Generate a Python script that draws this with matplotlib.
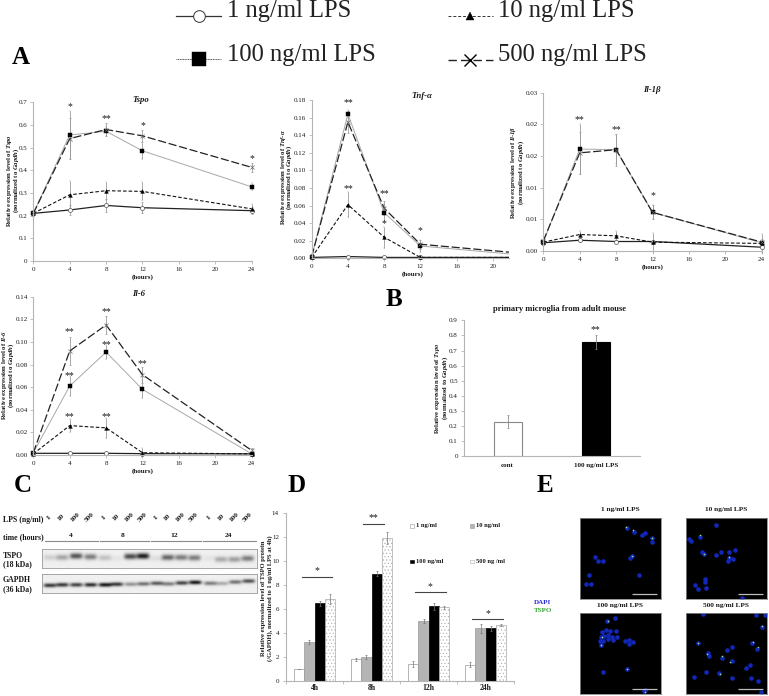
import numpy as np
import matplotlib
matplotlib.use("Agg")
import matplotlib.pyplot as plt
from matplotlib.patches import Rectangle
from matplotlib.lines import Line2D
from matplotlib.transforms import IdentityTransform

plt.rcParams['font.family'] = ['Liberation Serif', 'DejaVu Serif']
plt.rcParams['mathtext.fontset'] = 'custom'
plt.rcParams['mathtext.bfit'] = 'Liberation Serif:italic:bold'
plt.rcParams['mathtext.it'] = 'Liberation Serif:italic:bold'
plt.rcParams['mathtext.rm'] = 'Liberation Serif:bold'
plt.rcParams['mathtext.bf'] = 'Liberation Serif:bold'
plt.rcParams['mathtext.fallback'] = 'stix'

W, H = 769, 696
HOURS = [0, 4, 8, 12, 24]
DOSES = ['1 ng/ml LPS', '10 ng/ml LPS', '100 ng/ml LPS', '500 ng/ml LPS']

tspo_vals = [[.21, .225, .245, .235, .222], [.21, .292, .31, .307, .23],
             [.21, .556, .572, .486, .327], [.21, .54, .58, .552, .413]]
tspo_errs = [[.01, .02, .03, .025, .015], [.01, .06, .04, .04, .02],
             [.01, .105, .02, .035, .015], [.01, .09, .03, .025, .02]]
tspo_stars = [(4, .68, '*'), (8, .63, '**'), (12, .595, '*'), (24, .45, '*')]

tnf_vals = [[.001, .002, .001, .001, .001], [.001, .061, .024, .001, .001],
            [.002, .164, .052, .014, .003], [.002, .155, .057, .016, .005]]
tnf_errs = [[0, .0005, .0005, .0005, 0], [0, .014, .012, .002, 0],
            [0, .005, .01, .007, 0], [0, .012, .008, .005, 0]]
tnf_stars = [(4, .177, '**'), (4, .079, '**'), (8, .074, '**'), (8, .039, '*'), (12, .032, '*')]

il1_vals = [[.0013, .0017, .0015, .0015, .0006], [.0014, .0026, .0024, .0014, .0012],
            [.0014, .0161, .016, .0061, .0013], [.0016, .0155, .016, .0061, .0014]]
il1_errs = [[.0002, .0002, .0002, .0002, .0003], [.0002, .0006, .0007, .0015, .0015],
            [.0002, .004, .0023, .0011, .0005], [.0002, .0033, .0025, .0011, .0005]]
il1_stars = [(4, .0207, '**'), (8, .0192, '**'), (12, .0088, '*')]

il6_vals = [[.0015, .0015, .0015, .0012, .001], [.001, .026, .024, .002, .001],
            [.002, .061, .091, .058, .001], [.002, .092, .115, .071, .004]]
il6_errs = [[0, .0003, .0003, .0003, .0003], [0, .006, .009, .004, .001],
            [0, .009, .006, .008, .001], [0, .012, .008, .007, .002]]
il6_stars = [(4, .109, '**'), (8, .127, '**'), (4, .070, '**'), (8, .098, '**'),
             (12, .081, '**'), (4, .034, '**'), (8, .034, '**')]

b_cats = ['cont', '100 ng/ml LPS']
b_vals = [.23, .755]
b_errs = [.045, .045]

d_cats = ['4h', '8h', '12h', '24h']
d_vals = [[1.0, 1.8, 1.4, 1.35], [3.25, 2.0, 5.0, 4.4], [6.5, 8.95, 6.25, 4.4], [6.85, 11.9, 6.15, 4.7]]
d_errs = [[0, .12, .25, .2], [.15, .2, .18, .4], [.2, .2, .3, .2], [.45, .5, .1, .1]]
d_legend = ['1 ng/ml', '10 ng/ml', '100 ng/ml', '500 ng /ml']
d_brackets = [(8.7, '*'), (13.1, '**'), (7.4, '*'), (5.15, '*')]

lps_labels = ['1', '10', '100', '500'] * 4
time_labels = ['4', '8', '12', '24']
tspo_band = [.14, .32, .68, .5, .2, .05, .72, .92, .08, .6, .5, .5, .05, .3, .35, .5]
gapdh_band = [.8, .8, .75, .85, .95, .8, .4, .55, .65, .5, .75, .95, .5, .3, .55, .7]
lane_x = [150, 187, 229, 272, 315, 350, 392, 430, 470, 505, 545, 585, 630, 665, 705, 745]

img_titles = ['1 ng/ml LPS', '10 ng/ml LPS', '100 ng/ml LPS', '500 ng/ml LPS']
cells = [
    [(292,113),(311,127),(335,135),(345,130),(365,145),(367,156),(196,201),(205,213),(220,213),(300,205),(307,199),(178,255),(326,256),(168,282),(183,283)],
    [(557,104),(478,148),(484,153),(510,140),(515,186),(522,192),(558,196),(573,186),(598,186),(615,179),(596,203),(594,212),(609,208),(494,284),(505,298),(524,268),(526,276),(527,293),(636,323)],
    [(254,385),(232,393),(229,419),(217,426),(241,424),(258,424),(212,441),(222,438),(234,447),(246,440),(260,441),(250,449),(209,453),(219,452),(213,465),(284,453),(296,450),(308,455),(296,463),(219,545),(291,537),(341,604),(345,600),(235,436)],
    [(520,372),(677,374),(705,374),(697,412),(504,458),(606,470),(592,480),(667,460),(680,477),(535,488),(538,497),(577,503),(605,512),(659,525),(647,534),(528,546),(567,550),(491,560),(606,564),(662,565),(685,572),(692,606)],
]
spots = [
    [(288,110),(310,120),(305,198),(365,143)],
    [(510,136),(522,192),(596,200)],
    [(233,394),(214,465),(291,538),(344,606),(215,440)],
    [(505,458),(697,407),(530,492),(577,498),(600,516),(670,455),(683,470),(570,552)],
]

fig = plt.figure(figsize=(W / 100, H / 100), dpi=100, facecolor='white')
GREY = '#b5b5b5'
TXT = '#1a1a1a'
TS = 5.0


def make_ax(x0, x1, ytop, ybot):
    ax = fig.add_axes([x0 / W, 1 - ybot / H, (x1 - x0) / W, (ybot - ytop) / H])
    ax.patch.set_alpha(0)
    for s in ('top', 'right'):
        ax.spines[s].set_visible(False)
    for s in ('left', 'bottom'):
        ax.spines[s].set_color(GREY)
        ax.spines[s].set_linewidth(.8)
    ax.tick_params(length=2, width=.6, color=GREY, labelsize=TS, pad=2, labelcolor=TXT)
    return ax


def ptext(x, y, s, **kw):
    kw.setdefault('ha', 'center')
    kw.setdefault('va', 'center')
    kw.setdefault('fontsize', TS)
    kw.setdefault('fontweight', 'bold')
    kw.setdefault('color', TXT)
    return fig.text(x / W, 1 - y / H, s, **kw)


def ylab(x1, x2, y, s1, s2, fs=4.8):
    ptext(x1, y, s1, rotation=90, fontsize=fs)
    ptext(x2, y, s2, rotation=90, fontsize=fs)


STYLES = [
    dict(color='#222222', ls='-', lw=.9, marker='o', ms=2.9, mfc='white', mec='#555555', mew=.5),
    dict(color='#111111', ls=(0, (3.2, 1.8)), lw=.8, marker='^', ms=2.7, mfc='black', mec='black', mew=.3),
    dict(color='#a8a8a8', ls='-', lw=.7, marker='s', ms=3.1, mfc='black', mec='black', mew=.3),
    dict(color='#222222', ls=(0, (6.5, 2.2)), lw=.9, marker='x', ms=3.0, mfc='none', mec='#666666', mew=.5),
]


def line_panel(box, ymax, yticks, ylabels, vals, errs, stars, title, title_xy, xlab_y, xmax=24, xticks=(0, 4, 8, 12, 16, 20, 24)):
    ax = make_ax(*box)
    ax.set_xlim(0, xmax)
    ax.set_ylim(0, ymax)
    ax.set_xticks(list(xticks))
    ax.set_xticklabels([str(v) for v in xticks])
    ax.set_yticks(yticks)
    ax.set_yticklabels(ylabels)
    clip = Rectangle((-2, -ymax * .05), xmax + 2, ymax * 1.2, transform=ax.transData)
    for v, e, st in zip(vals, errs, STYLES):
        cont = ax.errorbar(HOURS, v, yerr=e, ecolor='#9a9a9a', elinewidth=.6, capsize=1.0, capthick=.5,
                           clip_on=xmax < 24, **st)
        if xmax < 24:
            for a in [cont.lines[0], *cont.lines[1], *cont.lines[2]]:
                a.set_clip_path(clip)
    for x, y, s in stars:
        ax.text(x, y, s, ha='center', va='center', fontsize=7, color=TXT, clip_on=False)
    ptext(title_xy[0], title_xy[1], title, fontsize=6.3, fontstyle='italic')
    ptext((box[0] + box[1]) / 2 + (2 if xmax < 24 else 0), xlab_y, '(hours)', fontsize=TS)
    return ax


LINE2 = '(normalized to $\\mathbfit{Gapdh}$)'

# Panel A
line_panel((33.3, 251.7, 102.3, 261), .7, [0, .1, .2, .3, .4, .5, .6, .7],
           ['0', '0.1', '0.2', '0.3', '0.4', '0.5', '0.6', '0.7'],
           tspo_vals, tspo_errs, tspo_stars, 'Tspo', (141, 100), 277.5)
ylab(9.5, 16, 180, 'Relative expression level of $\\mathbfit{Tspo}$', LINE2)

tnf_ticks = [0, .02, .04, .06, .08, .10, .12, .14, .16, .18]
line_panel((311.7, 509, 100, 258.3), .18, tnf_ticks, [f'{t:.2f}' for t in tnf_ticks],
           tnf_vals, tnf_errs, tnf_stars, 'Tnf-α', (422, 96), 274.5,
           xmax=21.8, xticks=(0, 4, 8, 12, 16, 20))
ylab(283, 289.5, 177, 'Relative expression level of $\\mathbfit{Tnf}$-$\\mathbfit{α}$', LINE2)

il1_ticks = [0, .005, .01, .015, .02, .025]
line_panel((543.3, 761.7, 92.7, 251), .025, il1_ticks, ['0.00', '0.01', '0.01', '0.02', '0.02', '0.03'],
           il1_vals, il1_errs, il1_stars, 'Il-1β', (652, 89.5), 267)
ylab(513.5, 521, 172, 'Relative expression level of $\\mathbfit{Il}$-$\\mathbfit{1β}$', LINE2)

il6_ticks = [0, .02, .04, .06, .08, .10, .12, .14]
line_panel((33.3, 251.7, 296.7, 455), .14, il6_ticks, [f'{t:.2f}' for t in il6_ticks],
           il6_vals, il6_errs, il6_stars, 'Il-6', (139, 294), 471)
ylab(4.8, 11.5, 375, 'Relative expression level of $\\mathbfit{Il}$-$\\mathbfit{6}$', LINE2)

# Panel B
axb = make_ax(463.5, 640, 320.3, 456.3)
axb.set_xlim(-.5, 1.5)
axb.set_ylim(0, .9)
axb.bar([0, 1], b_vals, width=.32, color=['white', 'black'], edgecolor=['#888888', 'black'], linewidth=.8,
        yerr=b_errs, error_kw=dict(ecolor='#888888', elinewidth=.6, capsize=1, capthick=.5))
axb.set_xticks([0, 1])
axb.set_xticklabels(b_cats, fontweight='bold', fontsize=TS)
axb.tick_params(axis='x', length=0, pad=5)
axb.set_yticks(np.arange(0, 10) / 10)
axb.set_yticklabels(['0'] + [f'{i / 10:.1f}' for i in range(1, 10)])
axb.text(1, .84, '**', ha='center', va='center', fontsize=7, color=TXT)
ptext(559.5, 309.3, 'primary microglia from adult mouse', fontsize=6.1)
ylab(438, 445, 388, 'Relative expression level of $\\mathbfit{Tspo}$', LINE2, fs=4.7)

# Panel D
axd = make_ax(286, 514.3, 513.3, 681)
axd.set_xlim(-.5, 3.5)
axd.set_ylim(0, 14)
bw = .18
dx = [-1.5, -.5, .5, 1.5]
dcols = ['white', '#b4b4b4', 'black', 'white']
dedge = ['#999999', '#999999', 'black', '#aaaaaa']
dhatch = [None, None, None, '.....']
plt.rcParams['hatch.linewidth'] = .4
plt.rcParams['hatch.color'] = '#9a9a9a'
for k in range(4):
    xs = [g + dx[k] * bw for g in range(4)]
    axd.bar(xs, d_vals[k], width=bw, color=dcols[k], edgecolor=dedge[k], hatch=dhatch[k], linewidth=.5,
            yerr=d_errs[k], error_kw=dict(ecolor='#777777', elinewidth=.5, capsize=1, capthick=.5))
axd.set_xticks(np.arange(.5, 3, 1).tolist() + [-.5, 3.5])
axd.set_xticklabels([''] * 5)
for g, c in enumerate(d_cats):
    axd.text(g, -.62, c, ha='center', va='center', fontsize=5.5, fontweight='bold', color=TXT)
axd.set_yticks(range(0, 15, 2))
axd.set_yticklabels([str(i) for i in range(0, 15, 2)])
axd.tick_params(axis='y', labelsize=5, pad=3)
axd.tick_params(axis='x', length=2)
bracket_half = [.265, .185, .27, .27]
bracket_c = [.04, 1.03, 2.03, 3.03]
for g, (y, s) in enumerate(d_brackets):
    axd.plot([bracket_c[g] - bracket_half[g], bracket_c[g] + bracket_half[g]], [y, y], color='#444444', lw=.8)
    axd.text(bracket_c[g], y + .5, s, ha='center', va='center', fontsize=7, color=TXT)
leg_xy = [(410, 526), (470, 526), (410, 561.5), (470, 561.5)]
for (x, y), lb, c, e in zip(leg_xy, d_legend, dcols, dedge):
    sq = Rectangle((x, H - y - 1.75), 3.5, 3.5, transform=IdentityTransform(),
                   facecolor=c, edgecolor=e, linewidth=.4)
    fig.add_artist(sq)
    ptext(x + 5.5, y, lb, ha='left', fontsize=4.7)
ylab(263.5, 269.8, 598, 'Relative expression level of TSPO protein', '(/GAPDH), normalized to 1 ng/ml LPS at 4h)', fs=4.7)
ptext(534, 602, 'DAPI', ha='left', color='#2a2ad0', fontsize=5)
ptext(534, 610, 'TSPO', ha='left', color='#3aa63a', fontsize=5)


# Panel C blots
def blot(x0, x1, ytop, ybot, intens, shift, thick):
    ax = fig.add_axes([x0 / W, 1 - ybot / H, (x1 - x0) / W, (ybot - ytop) / H])
    xx = np.linspace(127, 772, 340)
    yy = np.linspace(0, 1, 50)
    X, Y = np.meshgrid(xx, yy)
    img = np.ones_like(X) * .94
    for i, (lx, v) in enumerate(zip(lane_x, intens)):
        cy = .52 + shift[i]
        img -= .9 * v * np.exp(-((X - lx) / 19) ** 4) * np.exp(-((Y - cy) / thick) ** 2)
    ax.imshow(np.clip(img, 0, 1), cmap='gray', vmin=0, vmax=1, aspect='auto', extent=(127, 772, 1, 0),
              interpolation='bilinear')
    ax.set_xticks([])
    ax.set_yticks([])
    for s in ax.spines.values():
        s.set_color('#9a9a9a')
        s.set_linewidth(.6)
    return ax


blot(42.3, 257, 549.3, 568.3, tspo_band, [-.05, -.05, -.12, -.08, -.03, 0, -.1, -.12, 0, -.05, -.05, -.03, 0, .05, .05, 0], .15)
blot(41.7, 257, 574.3, 593.3, gapdh_band, [.08, .05, .05, .05, .05, .02, .02, 0, -.03, 0, -.05, -.08, -.03, -.02, -.1, -.15], .11)

ptext(3, 520, 'LPS (ng/ml)', ha='left', fontsize=5.6)
ptext(3, 537, 'time (hours)', ha='left', fontsize=5.6)
ptext(3, 555.7, 'TSPO', ha='left', fontsize=5.6)
ptext(3, 564.5, '(18 kDa)', ha='left', fontsize=5.6)
ptext(3, 580.3, 'GAPDH', ha='left', fontsize=5.6)
ptext(3, 589, '(36 kDa)', ha='left', fontsize=5.6)
for lx, lb in zip(lane_x, lps_labels):
    ptext(lx / 3 - 1, 517.5, lb, rotation=45, fontsize=5.3)
for cx, lb, (a, b) in zip([70.5, 123, 174, 228.5], time_labels, [(44.5, 98), (99.5, 149), (151, 200.5), (202.5, 255.5)]):
    ptext(cx, 535.5, lb, fontsize=5.4)
    fig.add_artist(Line2D([a / W, b / W], [1 - 541.3 / H] * 2, color='#8a8a8a', lw=.8))

# Panel E
img_boxes = [(580, 661, 517.7, 599), (685.7, 767.3, 517.7, 599),
             (580, 661, 613.3, 694.3), (685.7, 767.3, 613.3, 694.3)]
zoom_frames = [(150, 393, 327, 83), (467, 712, 327, 83), (150, 393, 613, 370), (467, 712, 613, 370)]
title_x = [620, 726, 620, 726]
title_y = [509.5, 509.5, 606, 606]
for i, (bx, fr) in enumerate(zip(img_boxes, zoom_frames)):
    ax = fig.add_axes([bx[0] / W, 1 - bx[3] / H, (bx[1] - bx[0]) / W, (bx[3] - bx[2]) / H])
    ax.set_facecolor('black')
    ax.set_xlim(fr[0], fr[1])
    ax.set_ylim(fr[2], fr[3])
    ax.set_xticks([])
    ax.set_yticks([])
    for s in ax.spines.values():
        s.set_color('#888888')
        s.set_linewidth(.6)
    cx, cy = zip(*cells[i])
    ax.scatter(cx, cy, s=11, color='#1226b8', linewidths=0)
    sx, sy = zip(*spots[i])
    ax.scatter(sx, sy, s=1.4, color='#90e090', linewidths=0)
    ax.plot([fr[1] - 88, fr[1] - 13], [fr[2] - 16, fr[2] - 16], color='#bbbbbb', lw=.9, solid_capstyle='butt')
    ptext(title_x[i], title_y[i], img_titles[i], fontsize=5.3)

# Top legend
leg_pos = [(176, 221, 199, 16, 227), (448, 493, 470, 16, 498), (176, 221, 199, 59, 227), (448, 493, 470, 60, 498)]
leg_styles = [
    dict(color='#333333', ls='-', lw=.9, marker='o', ms=8.4, mfc='white', mec='#333333', mew=.7),
    dict(color='#333333', ls=(0, (3, 2)), lw=.7, marker='^', ms=6, mfc='black', mec='black', mew=.3),
    dict(color='#444444', ls=(0, (1, .7)), lw=.7, marker='s', ms=10, mfc='black', mec='black', mew=.3),
    dict(color='#222222', ls=(0, (6, 3)), lw=1.0, marker='x', ms=9, mfc='none', mec='black', mew=1.0),
]
for (a, b, m, y, tx), lb, st in zip(leg_pos, DOSES, leg_styles):
    st = dict(st)
    marker = {k: st.pop(k) for k in ('marker', 'ms', 'mfc', 'mec', 'mew')}
    fig.add_artist(Line2D([a / W, b / W], [1 - y / H] * 2, **st))
    fig.add_artist(Line2D([m / W], [1 - y / H], ls='none', marker=marker['marker'], ms=marker['ms'],
                          mfc=marker['mfc'], mec=marker['mec'], mew=marker['mew']))
    ptext(tx, y - 4.5, lb, ha='left', fontsize=17.7, fontweight='normal', color='#222222')

# Panel letters
for lt, x, y in [('A', 12, 57.5), ('B', 386, 299.5), ('C', 14, 485.5), ('D', 287, 485.5), ('E', 537, 485.5)]:
    ptext(x, y, lt, ha='left', fontsize=18, color='black')

fig.savefig('out.png', dpi=100, facecolor='white')
